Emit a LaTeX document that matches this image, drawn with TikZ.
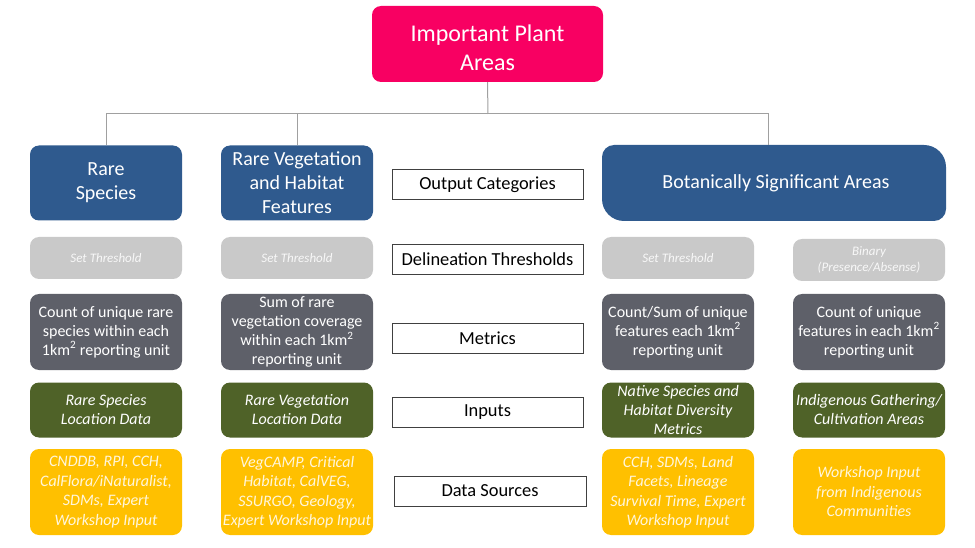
\documentclass[tikz,border=0pt]{standalone}
\usepackage{fontspec}
\setmainfont{Carlito}
\begin{document}
\begin{tikzpicture}[x=1pt,y=1pt,
  box/.style={rounded corners=9pt, inner sep=0pt, minimum width=152pt, align=center, text=white},
  pinkbox/.style={box, fill=ipapink, minimum width=231pt, minimum height=76pt, font=\fontsize{24}{29}\selectfont},
  bluebox/.style={box, fill=catblue, minimum height=75pt, font=\fontsize{20}{24}\selectfont},
  thrbox/.style={box, fill=thrgray, minimum height=42pt, text=thrtext, font=\fontsize{13}{16}\selectfont\itshape},
  metbox/.style={box, fill=metgray, minimum height=76pt, font=\fontsize{16}{19}\selectfont},
  inbox/.style={box, fill=ingreen, minimum height=55pt, font=\fontsize{16}{19}\selectfont\itshape},
  srcbox/.style={box, fill=srcyellow, minimum height=86pt, text=srctext, font=\fontsize{16}{19.5}\selectfont\itshape},
  labelbox/.style={draw=labelborder, line width=0.9pt, fill=white, inner sep=0pt, minimum width=191pt, minimum height=30pt, font=\fontsize{18.4}{21}\selectfont},
  conn/.style={draw=conngray, line width=1pt}
]
\definecolor{ipapink}{RGB}{248,0,98}
\definecolor{catblue}{RGB}{47,90,142}
\definecolor{thrgray}{RGB}{201,201,201}
\definecolor{thrtext}{RGB}{248,248,248}
\definecolor{metgray}{RGB}{94,96,105}
\definecolor{ingreen}{RGB}{79,98,40}
\definecolor{srcyellow}{RGB}{255,192,0}
\definecolor{srctext}{RGB}{255,246,220}
\definecolor{labelborder}{RGB}{64,64,64}
\definecolor{conngray}{RGB}{160,160,160}

\useasboundingbox (0,0) rectangle (975,-548);

% top
\node[pinkbox] (ipa) at (487.5,-44) {\rule{0pt}{25pt}Important Plant\\Areas};

% output categories
\node[bluebox] (rs) at (106,-183) {Rare\\Species};
\node[bluebox] (rv) at (297,-183) {Rare Vegetation\\and Habitat\\Features};
\fill[catblue] (614,-145) -- (924,-145) arc[start angle=90,end angle=0,radius=22pt]
  -- (946,-209) arc[start angle=0,end angle=-90,radius=12pt]
  -- (624,-221) arc[start angle=270,end angle=180,radius=22pt]
  -- (602,-157) arc[start angle=180,end angle=90,radius=12pt] -- cycle;
\node[inner sep=0pt, minimum width=344pt, minimum height=76pt, text=white, font=\fontsize{20}{24}\selectfont] (bsa) at (776,-183) {Botanically Significant Areas};

% connectors
\coordinate (j) at (488,-114);
\coordinate (bsatop) at (768,-145);
\draw[conn] (ipa.south) -- (j);
\draw[conn] (rs.north) -- (rs.north |- j) -- (bsatop |- j) -- (bsatop);
\draw[conn] (rv.north) -- (rv.north |- j);

% row labels
\node[labelbox] (lout) at (487.5,-184.5) {Output Categories};
\node[labelbox] (ldel) at (487.5,-259) {Delineation Thresholds};
\node[labelbox] (lmet) at (487.5,-338) {Metrics};
\node[labelbox] (linp) at (487.5,-412) {Inputs};
\node[labelbox, minimum width=192pt] (lsrc) at (490,-491) {Data Sources};

% thresholds
\node[thrbox] (t1) at (106,-258) {Set Threshold};
\node[thrbox] (t2) at (297,-258) {Set Threshold};
\node[thrbox] (t3) at (678,-258) {Set Threshold};
\node[thrbox] (t4) at (869,-260) {Binary\\(Presence/Absense)};

% metrics
\node[metbox] (m1) at (106,-332) {Count of unique rare\\species within each\\1km\textsuperscript{2} reporting unit};
\node[metbox] (m2) at (297,-332) {Sum of rare\\vegetation coverage\\within each 1km\textsuperscript{2}\\reporting unit};
\node[metbox] (m3) at (678,-332) {Count/Sum of unique\\features each 1km\textsuperscript{2}\\reporting unit};
\node[metbox] (m4) at (869,-332) {Count of unique\\features in each 1km\textsuperscript{2}\\reporting unit};

% inputs
\node[inbox] (i1) at (106,-410) {Rare Species\\Location Data};
\node[inbox] (i2) at (297,-410) {Rare Vegetation\\Location Data};
\node[inbox] (i3) at (678,-410) {Native Species and\\Habitat Diversity\\Metrics};
\node[inbox] (i4) at (869,-410) {Indigenous Gathering/\\Cultivation Areas};

% data sources
\node[srcbox] (s1) at (106,-492) {CNDDB, RPI, CCH,\\CalFlora/iNaturalist,\\SDMs, Expert\\Workshop Input};
\node[srcbox] (s2) at (297,-492) {VegCAMP, Critical\\Habitat, CalVEG,\\SSURGO, Geology,\\Expert Workshop Input};
\node[srcbox] (s3) at (678,-492) {CCH, SDMs, Land\\Facets, Lineage\\Survival Time, Expert\\Workshop Input};
\node[srcbox] (s4) at (869,-492) {Workshop Input\\from Indigenous\\Communities};
\end{tikzpicture}
\end{document}
